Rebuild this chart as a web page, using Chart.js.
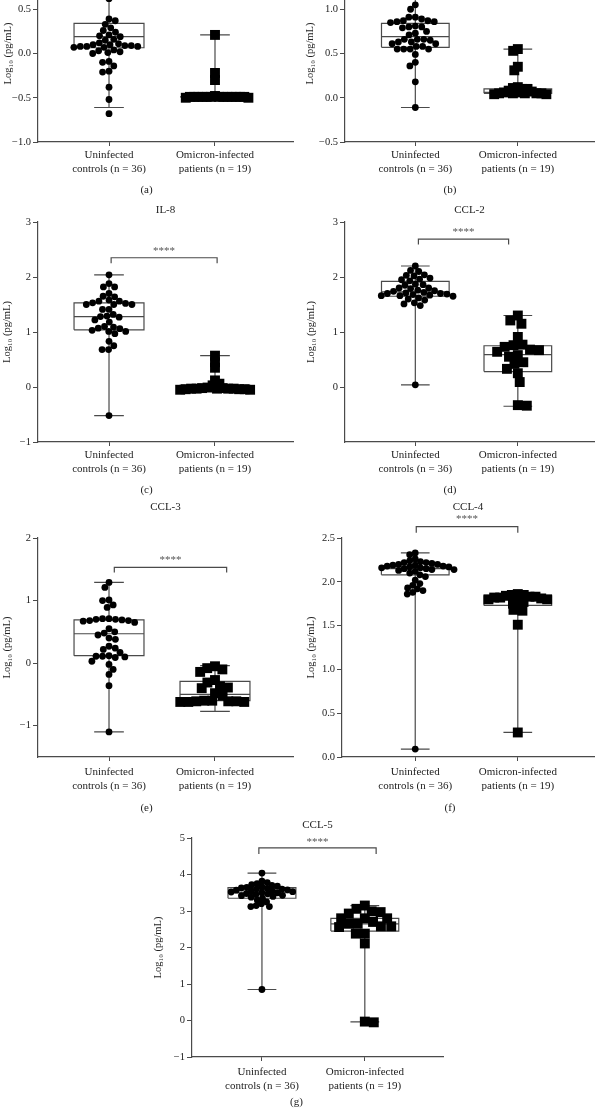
<!DOCTYPE html>
<html>
<head>
<meta charset="utf-8">
<script src="https://cdn.jsdelivr.net/npm/chart.js@4.4.1/dist/chart.umd.min.js"></script>
<style>
  html, body { margin: 0; padding: 0; background: #fff; }
  body { width: 601px; height: 1111px; position: relative; overflow: hidden; }
  canvas { position: absolute; }
</style>
</head>
<body>
<canvas id="pa"></canvas>
<canvas id="pb"></canvas>
<canvas id="pc"></canvas>
<canvas id="pd"></canvas>
<canvas id="pe"></canvas>
<canvas id="pf"></canvas>
<canvas id="pg"></canvas>
<script>
// categories
const groups = [['Uninfected', 'controls (n = 36)'], ['Omicron-infected', 'patients (n = 19)']];
const yTitle = 'Log\u2081\u2080 (pg/mL)';

// (a)
const ctrlA = [0.62, 0.39, 0.37, 0.33, 0.29, 0.26, 0.24, 0.21, 0.2, 0.19, 0.16, 0.15, 0.11, 0.1, 0.1, 0.09, 0.09, 0.08,
  0.08, 0.08, 0.07, 0.07, 0.04, 0.03, 0.02, 0.01, 0.0, -0.09, -0.1, -0.14, -0.2, -0.21, -0.38, -0.52, -0.68, 0.12];
const omiA = [0.21, -0.22, -0.3, -0.48, -0.49, -0.49, -0.49, -0.49, -0.49, -0.49, -0.49, -0.49, -0.49, -0.49, -0.49,
  -0.49, -0.49, -0.5, -0.5];
const boxA = [{min: -0.61, q1: 0.065, med: 0.19, q3: 0.34, max: 0.75}, {min: -0.49, q1: -0.49, med: -0.49, q3: -0.49, max: 0.21}];
const ticksA = [-1, -0.5, 0, 0.5, 1];

// (b)
const ctrlB = [1.05, 1.0, 0.91, 0.89, 0.91, 0.86, 0.87, 0.85, 0.86, 0.87, 0.8, 0.79, 0.8, 0.81, 0.75, 0.73, 0.71, 0.66,
  0.66, 0.66, 0.65, 0.63, 0.63, 0.61, 0.61, 0.58, 0.58, 0.55, 0.55, 0.55, 0.55, 0.49, 0.4, 0.36, 0.18, -0.11];
const omiB = [0.55, 0.53, 0.35, 0.31, 0.12, 0.11, 0.1, 0.1, 0.08, 0.07, 0.06, 0.06, 0.05, 0.05, 0.05, 0.05, 0.05, 0.04, 0.04];
const boxB = [{min: -0.11, q1: 0.57, med: 0.69, q3: 0.84, max: 1.15}, {min: 0.04, q1: 0.05, med: 0.06, q3: 0.1, max: 0.55}];
const ticksB = [-0.5, 0, 0.5, 1, 1.5];

// (c) IL-8
const ctrlC = [2.04, 1.88, 1.82, 1.82, 1.7, 1.65, 1.64, 1.58, 1.56, 1.56, 1.53, 1.52, 1.5, 1.5, 1.5, 1.41, 1.41, 1.32,
  1.29, 1.28, 1.27, 1.22, 1.18, 1.1, 1.09, 1.07, 1.06, 1.03, 1.01, 1.01, 0.97, 0.83, 0.75, 0.68, 0.68, -0.52];
const omiC = [0.57, 0.45, 0.35, 0.12, 0.06, 0.03, -0.01, -0.02, -0.02, -0.03, -0.03, -0.03, -0.03, -0.03, -0.04, -0.04,
  -0.04, -0.05, -0.05];
const boxC = [{min: -0.52, q1: 1.04, med: 1.28, q3: 1.53, max: 2.04}, {min: -0.05, q1: -0.04, med: -0.03, q3: 0.03, max: 0.57}];
const ticksC = [-1, 0, 1, 2, 3];
const sigC = {x1: 1.02, x2: 2.02, y: 2.35, drop: 0.1, starY: 2.47};

// (d) CCL-2
const ctrlD = [2.2, 2.12, 2.1, 2.04, 2.03, 2.02, 1.98, 1.96, 1.95, 1.93, 1.87, 1.86, 1.85, 1.8, 1.8, 1.79, 1.76, 1.75,
  1.74, 1.72, 1.71, 1.7, 1.7, 1.69, 1.68, 1.67, 1.66, 1.66, 1.65, 1.62, 1.6, 1.58, 1.53, 1.51, 1.48, 0.04];
const omiD = [1.3, 1.21, 1.15, 0.91, 0.77, 0.76, 0.73, 0.68, 0.67, 0.64, 0.58, 0.55, 0.45, 0.42, 0.33, 0.25, 0.09, -0.33, -0.34];
const boxD = [{min: 0.04, q1: 1.65, med: 1.73, q3: 1.92, max: 2.2}, {min: -0.35, q1: 0.28, med: 0.59, q3: 0.75, max: 1.3}];
const ticksD = [0, 1, 2, 3];
const sigD = {x1: 1.03, x2: 1.91, y: 2.69, drop: 0.1, starY: 2.81};

// (e) CCL-3
const ctrlE = [1.29, 1.21, 1.01, 1.0, 0.93, 0.89, 0.71, 0.71, 0.7, 0.7, 0.69, 0.68, 0.68, 0.67, 0.65, 0.55, 0.5, 0.48,
  0.45, 0.4, 0.38, 0.27, 0.24, 0.22, 0.17, 0.12, 0.11, 0.11, 0.1, 0.09, 0.03, -0.02, -0.1, -0.18, -0.36, -1.1];
const omiE = [-0.05, -0.08, -0.1, -0.14, -0.27, -0.31, -0.37, -0.39, -0.4, -0.48, -0.52, -0.6, -0.6, -0.61, -0.61, -0.61,
  -0.62, -0.62, -0.62];
const boxE = [{min: -1.1, q1: 0.12, med: 0.47, q3: 0.69, max: 1.29}, {min: -0.77, q1: -0.6, med: -0.5, q3: -0.29, max: -0.04}];
const ticksE = [-1, 0, 1, 2];
const sigE = {x1: 1.05, x2: 2.11, y: 1.53, drop: 0.08, starY: 1.65};

// (f) CCL-4
const ctrlF = [2.33, 2.31, 2.26, 2.24, 2.23, 2.22, 2.22, 2.21, 2.2, 2.2, 2.19, 2.19, 2.18, 2.18, 2.17, 2.17, 2.16, 2.16,
  2.15, 2.15, 2.14, 2.14, 2.13, 2.12, 2.1, 2.08, 2.06, 2.02, 1.98, 1.96, 1.93, 1.92, 1.9, 1.88, 1.86, 0.09];
const omiF = [1.86, 1.85, 1.85, 1.84, 1.83, 1.83, 1.82, 1.82, 1.81, 1.8, 1.8, 1.79, 1.77, 1.75, 1.72, 1.68, 1.67, 1.51, 0.28];
const boxF = [{min: 0.09, q1: 2.08, med: 2.15, q3: 2.17, max: 2.33}, {min: 0.28, q1: 1.73, med: 1.8, q3: 1.84, max: 1.86}];
const ticksF = [0, 0.5, 1, 1.5, 2, 2.5];
const sigF = {x1: 1.01, x2: 2.0, y: 2.63, drop: 0.07, starY: 2.71};

// (g) CCL-5
const ctrlG = [4.04, 3.82, 3.78, 3.75, 3.72, 3.7, 3.68, 3.66, 3.65, 3.63, 3.62, 3.6, 3.6, 3.58, 3.57, 3.55, 3.55, 3.53,
  3.52, 3.5, 3.5, 3.48, 3.47, 3.45, 3.43, 3.42, 3.4, 3.38, 3.35, 3.3, 3.25, 3.2, 3.15, 3.12, 3.12, 0.85];
const omiG = [3.15, 3.06, 2.99, 2.97, 2.93, 2.8, 2.8, 2.8, 2.7, 2.65, 2.65, 2.58, 2.58, 2.56, 2.38, 2.38, 2.11, -0.03, -0.05];
const boxG = [{min: 0.85, q1: 3.35, med: 3.5, q3: 3.64, max: 4.04}, {min: -0.04, q1: 2.45, med: 2.65, q3: 2.8, max: 3.15}];
const ticksG = [-1, 0, 1, 2, 3, 4, 5];
const sigG = {x1: 0.97, x2: 2.11, y: 4.73, drop: 0.17, starY: 4.9};

const panels = [
  {id: 'pa', sub: '(a)', title: '', ctrl: ctrlA, omi: omiA, box: boxA, ticks: ticksA, dec: 1, yMin: -1, yMax: 1, sig: null,
   left: 0, width: 300, yW: 38, padR: 7, top: -35, bottom: 142, titleY: null, subY: 190, xMin: 0.33, xMax: 2.736, yTitlePad: 2, tickPad: 2, gapC: 6.5, gapO: 4.2},
  {id: 'pb', sub: '(b)', title: '', ctrl: ctrlB, omi: omiB, box: boxB, ticks: ticksB, dec: 1, yMin: -0.5, yMax: 1.5, sig: null,
   left: 300, width: 301, yW: 45, padR: 1, top: -35, bottom: 142, titleY: null, subY: 190, xMin: 0.314, xMax: 2.743, yTitlePad: 4, tickPad: 2, gapC: 6.5, gapO: 5},
  {id: 'pc', sub: '(c)', title: 'IL-8', ctrl: ctrlC, omi: omiC, box: boxC, ticks: ticksC, dec: 0, yMin: -1, yMax: 3, sig: sigC,
   left: 0, width: 300, yW: 38, padR: 7, top: 222, bottom: 442, titleY: 210, subY: 490, xMin: 0.33, xMax: 2.736, yTitlePad: 1, tickPad: 2, gapC: 6.5, gapO: 5.5},
  {id: 'pd', sub: '(d)', title: 'CCL-2', ctrl: ctrlD, omi: omiD, box: boxD, ticks: ticksD, dec: 0, yMin: -1, yMax: 3, sig: sigD,
   left: 300, width: 301, yW: 45, padR: 1, top: 222, bottom: 442, titleY: 210, subY: 490, xMin: 0.314, xMax: 2.743, yTitlePad: 5, tickPad: 2, gapC: 6.5, gapO: 9},
  {id: 'pe', sub: '(e)', title: 'CCL-3', ctrl: ctrlE, omi: omiE, box: boxE, ticks: ticksE, dec: 0, yMin: -1.5, yMax: 2, sig: sigE,
   left: 0, width: 300, yW: 38, padR: 7, top: 538, bottom: 757, titleY: 507, subY: 808, xMin: 0.33, xMax: 2.736, yTitlePad: 1, tickPad: 4, gapC: 6.5, gapO: 8},
  {id: 'pf', sub: '(f)', title: 'CCL-4', ctrl: ctrlF, omi: omiF, box: boxF, ticks: ticksF, dec: 1, yMin: 0, yMax: 2.5, sig: sigF,
   left: 300, width: 301, yW: 42, padR: 1, top: 538, bottom: 757, titleY: 507, subY: 808, xMin: 0.286, xMax: 2.743, yTitlePad: 5, tickPad: 4, gapC: 5.8, gapO: 6},
  {id: 'pg', sub: '(g)', title: 'CCL-5', ctrl: ctrlG, omi: omiG, box: boxG, ticks: ticksG, dec: 0, yMin: -1, yMax: 5, sig: sigG,
   left: 150, width: 300, yW: 42, padR: 7, top: 838, bottom: 1057, titleY: 825, subY: 1102, xMin: 0.32, xMax: 2.76, yTitlePad: 2, tickPad: 4, gapC: 5.5, gapO: 9}
];

const FONT = "'Liberation Serif', 'DejaVu Serif', serif";
const TEXT = '#222';
const AXIS = '#4a4a4a';
Chart.defaults.font.family = FONT;
Chart.defaults.color = TEXT;

const fmt = (v, dec) => v.toFixed(dec).replace('-', '\u2212');

// box outline, median, whiskers and caps as one broken line
function boxPath(cx, b) {
  const w = 0.33, c = 0.14, gap = {x: null, y: null};
  return [
    {x: cx - w, y: b.q1}, {x: cx + w, y: b.q1}, {x: cx + w, y: b.q3}, {x: cx - w, y: b.q3}, {x: cx - w, y: b.q1}, gap,
    {x: cx - w, y: b.med}, {x: cx + w, y: b.med}, gap,
    {x: cx, y: b.q3}, {x: cx, y: b.max}, gap,
    {x: cx - c, y: b.max}, {x: cx + c, y: b.max}, gap,
    {x: cx, y: b.q1}, {x: cx, y: b.min}, gap,
    {x: cx - c, y: b.min}, {x: cx + c, y: b.min}
  ];
}

function sigPath(s) {
  return [{x: s.x1, y: s.y - s.drop}, {x: s.x1, y: s.y}, {x: s.x2, y: s.y}, {x: s.x2, y: s.y - s.drop}];
}

const starsPlugin = {
  id: 'stars',
  afterDatasetsDraw(chart, args, opts) {
    if (!opts.text) return;
    const {ctx, scales} = chart;
    ctx.save();
    ctx.font = '11px ' + FONT;
    ctx.fillStyle = '#555';
    ctx.textAlign = 'center';
    ctx.textBaseline = 'middle';
    ctx.fillText(opts.text, scales.x.getPixelForValue(opts.x), scales.y.getPixelForValue(opts.y));
    ctx.restore();
  }
};

// spread points sideways so they don't overlap (beeswarm in pixel space)
function swarm(chart, dsIndex, values, center, gap) {
  const xs = chart.scales.x, ys = chart.scales.y;
  const cx = xs.getPixelForValue(center);
  const order = values.map((v, i) => i).sort((a, b) => values[b] - values[a]);
  const placed = [];
  const out = [];
  order.forEach((i, k) => {
    const py = ys.getPixelForValue(values[i]);
    const cands = [0];
    placed.forEach(p => {
      const dy = Math.abs(p.py - py);
      if (dy < gap) {
        const dx = Math.sqrt(gap * gap - dy * dy);
        cands.push(p.dx + dx, p.dx - dx);
      }
    });
    cands.sort((a, b) => Math.abs(a) - Math.abs(b) || (k % 2 ? a - b : b - a));
    const dx = cands.find(c => placed.every(p => (p.dx - c) ** 2 + (p.py - py) ** 2 >= gap * gap - 0.01));
    placed.push({dx, py});
    out[i] = {x: xs.getValueForPixel(cx + dx), y: values[i]};
  });
  chart.data.datasets[dsIndex].data = out;
}

panels.forEach(p => {
  const canvas = document.getElementById(p.id);
  const cTop = p.titleY !== null ? p.titleY - 9 : p.top - 10;
  const height = p.subY + 9 - cTop;
  canvas.width = p.width;
  canvas.height = height;
  canvas.style.left = p.left + 'px';
  canvas.style.top = cTop + 'px';

  const datasets = [
    {data: p.ctrl.map(v => ({x: 1, y: v})), pointStyle: 'circle', pointRadius: 3.4, backgroundColor: '#000', borderWidth: 0},
    {data: p.omi.map(v => ({x: 2, y: v})), pointStyle: 'rect', pointRadius: 7, backgroundColor: '#000', borderWidth: 0},
    {data: boxPath(1, p.box[0]).concat([{x: null, y: null}], boxPath(2, p.box[1])), showLine: true, pointRadius: 0,
     borderColor: AXIS, borderWidth: 1.2, spanGaps: false, clip: false}
  ];
  if (p.sig) {
    datasets.push({data: sigPath(p.sig), showLine: true, pointRadius: 0, borderColor: AXIS, borderWidth: 1.2, clip: false});
  }

  const chart = new Chart(canvas, {
    type: 'scatter',
    data: {datasets},
    plugins: [starsPlugin],
    options: {
      responsive: false,
      maintainAspectRatio: false,
      animation: false,
      events: [],
      layout: {padding: {top: p.titleY !== null ? 0 : 10, left: 0, right: p.padR, bottom: 0}},
      plugins: {
        legend: {display: false},
        tooltip: {enabled: false},
        title: {
          display: !!p.title, text: p.title, fullSize: false,
          font: {size: 11, weight: 'normal', lineHeight: '14px'}, color: TEXT,
          padding: {top: 2, bottom: p.titleY !== null ? p.top - p.titleY - 7 : 0}
        },
        subtitle: {
          display: true, text: p.sub, position: 'bottom',
          font: {size: 11, lineHeight: '14px'}, color: TEXT,
          padding: {top: p.subY - 7 - (p.bottom + 36), bottom: 2}
        },
        stars: p.sig ? {text: '****', x: (p.sig.x1 + p.sig.x2) / 2, y: p.sig.starY} : {}
      },
      scales: {
        x: {
          type: 'linear', min: p.xMin, max: p.xMax,
          afterBuildTicks: s => { s.ticks = [{value: 1}, {value: 2}]; },
          afterFit: s => { s.height = 36; },
          ticks: {
            callback: v => groups[v - 1], autoSkip: false, maxRotation: 0,
            padding: p.tickPad, color: TEXT, font: {size: 11, lineHeight: '14px'}
          },
          grid: {display: true, drawOnChartArea: false, drawTicks: true, tickLength: 4, color: AXIS},
          border: {display: true, color: AXIS, width: 1.2}
        },
        y: {
          type: 'linear', min: p.yMin, max: p.yMax,
          afterBuildTicks: s => { s.ticks = p.ticks.map(v => ({value: v})); },
          afterFit: s => { s.width = p.yW; },
          ticks: {callback: v => fmt(v, p.dec), padding: 2, color: TEXT, font: {size: 10.5}},
          grid: {display: true, drawOnChartArea: false, drawTicks: true, tickLength: 5, color: AXIS},
          border: {display: true, color: AXIS, width: 1.2},
          title: {display: true, text: yTitle, color: TEXT, font: {size: 10.5}, padding: {top: p.yTitlePad, bottom: 0}}
        }
      }
    }
  });

  swarm(chart, 0, p.ctrl, 1, p.gapC);
  swarm(chart, 1, p.omi, 2, p.gapO);
  chart.update('none');
});
</script>
</body>
</html>
